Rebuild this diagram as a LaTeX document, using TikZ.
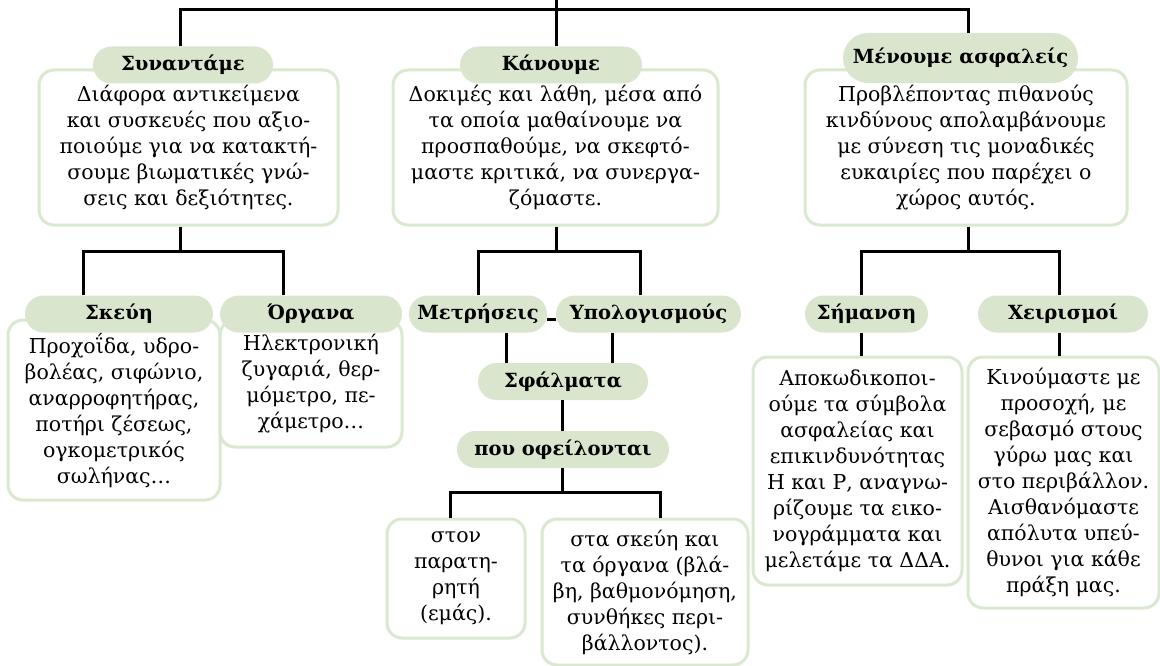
\documentclass[tikz,border=0pt]{standalone}
\usepackage{fontspec}
\setmainfont{DejaVu Serif}
\usetikzlibrary{positioning, shapes.misc}
\definecolor{pillgreen}{HTML}{D9E6CD}
\definecolor{cardgreen}{HTML}{DAE8CF}
\tikzset{
	pill/.style={rounded rectangle, fill=pillgreen, inner sep=0pt, minimum height=37pt, font=\bfseries\fontsize{19.5}{26}\selectfont},
	card/.style={draw=cardgreen, line width=3pt, fill=white, rounded corners=15pt, inner sep=0pt, align=center, font=\fontsize{20.5}{26}\selectfont},
	link/.style={line width=3pt}
}

\begin{document}
\begin{tikzpicture}[x=1pt, y=-1pt]
	\useasboundingbox (0,0) rectangle (1160,666);

	% first row of cards, pills on top of them
	\node[card, minimum width=299pt, minimum height=155pt] (synbox) at (188.5,147.5) {Διάφορα αντικείμενα\\και συσκευές που αξιο-\\ποιούμε για να κατακτή-\\σουμε βιωματικές γνώ-\\σεις και δεξιότητες.};
	\node[card, minimum width=325pt, minimum height=155pt] (kanbox) at (555.5,147.5) {Δοκιμές και λάθη, μέσα από\\τα οποία μαθαίνουμε να\\προσπαθούμε, να σκεφτό-\\μαστε κριτικά, να συνεργα-\\ζόμαστε.};
	\node[card, minimum width=322pt, minimum height=155pt] (menbox) at (966,147.5) {Προβλέποντας πιθανούς\\κινδύνους απολαμβάνουμε\\με σύνεση τις μοναδικές\\ευκαιρίες που παρέχει ο\\χώρος αυτός.};
	\node[pill, minimum width=180pt] (synpill) at (183,65) {Συναντάμε};
	\node[pill, minimum width=182pt] (kanpill) at (551,65) {Κάνουμε};
	\node[pill, minimum width=235pt, minimum height=50pt] (menpill) at (960.5,58) {Μένουμε ασφαλείς};

	% second row
	\node[card, minimum width=212pt, minimum height=180pt] (skebox) at (114,410) {Προχοΐδα, υδρο-\\βολέας, σιφώνιο,\\αναρροφητήρας,\\ποτήρι ζέσεως,\\ογκομετρικός\\σωλήνας…};
	\node[card, minimum width=182pt, minimum height=127pt] (orgbox) at (311,383.5) {Ηλεκτρονική\\ζυγαριά, θερ-\\μόμετρο, πε-\\χάμετρο…};
	\node[pill, minimum width=188pt] (skepill) at (119,314) {Σκεύη};
	\node[pill, minimum width=182pt] (orgpill) at (311,314) {Όργανα};
	\node[pill, minimum width=138pt] (metpill) at (478,314) {Μετρήσεις};
	\node[pill, minimum width=185pt] (ypopill) at (648.5,314) {Υπολογισμούς};
	\node[pill, minimum width=170pt] (sfapill) at (563,381.5) {Σφάλματα};
	\node[pill, minimum width=212pt] (poupill) at (563,449.5) {που οφείλονται};
	\node[card, minimum width=138pt, minimum height=119pt] (parbox) at (456,578.5) {στον\\παρατη-\\ρητή\\(εμάς).};
	\node[card, minimum width=206pt, minimum height=146pt] (orgbox2) at (645,592) {στα σκεύη και\\τα όργανα (βλά-\\βη, βαθμονόμηση,\\συνθήκες περι-\\βάλλοντος).};
	\node[pill, minimum width=123pt] (simpill) at (866.5,314) {Σήμανση};
	\node[pill, minimum width=170pt] (xeipill) at (1063,314) {Χειρισμοί};
	\node[card, minimum width=209pt, minimum height=228pt] (simbox) at (857.5,471) {Αποκωδικοποι-\\ούμε τα σύμβολα\\ασφαλείας και\\επικινδυνότητας\\Η και Ρ, αναγνω-\\ρίζουμε τα εικο-\\νογράμματα και\\μελετάμε τα ΔΔΑ.};
	\node[card, minimum width=191pt, minimum height=251pt] (xeibox) at (1063.5,482.5) {Κινούμαστε με\\προσοχή, με\\σεβασμό στους\\γύρω μας και\\στο περιβάλλον.\\Αισθανόμαστε\\απόλυτα υπεύ-\\θυνοι για κάθε\\πράξη μας.};

	% junction points of the tree
	\coordinate (root) at (556,0);
	\coordinate (tl) at (180,10);
	\coordinate (tr) at (968,10);
	\coordinate (sa) at (180,251);
	\coordinate (sl) at (83,251);
	\coordinate (sr) at (283,251);
	\coordinate (ka) at (556,251);
	\coordinate (kl) at (478,251);
	\coordinate (kr) at (640,251);
	\coordinate (ml) at (506,348);
	\coordinate (mr) at (612,348);
	\coordinate (pa) at (562,492);
	\coordinate (pl) at (450,492);
	\coordinate (pr) at (660,492);
	\coordinate (ma) at (968,251);
	\coordinate (mal) at (861,251);
	\coordinate (mar) at (1059,251);

	\draw[link] (root) -- (root |- kanpill.north);
	\draw[link] (tl |- synpill.north) -- (tl) -- (tr) -- (tr |- menpill.north);
	\draw[link] (sa |- synbox.south) -- (sa);
	\draw[link] (sl |- skepill.north) -- (sl) -- (sr) -- (sr |- orgpill.north);
	\draw[link] (ka |- kanbox.south) -- (ka);
	\draw[link] (kl |- metpill.north) -- (kl) -- (kr) -- (kr |- ypopill.north);
	\draw[link] ([yshift=-5pt]metpill.east) -- ([yshift=-5pt]ypopill.west);
	\draw[link] (ml |- metpill.south) -- (ml |- sfapill.north);
	\draw[link] (mr |- ypopill.south) -- (mr |- sfapill.north);
	\draw[link] (pa |- sfapill.south) -- (pa |- poupill.north);
	\draw[link] (pa |- poupill.south) -- (pa);
	\draw[link] (pl |- parbox.north) -- (pl) -- (pr) -- (pr |- orgbox2.north);
	\draw[link] (ma |- menbox.south) -- (ma);
	\draw[link] (mal |- simpill.north) -- (mal) -- (mar) -- (mar |- xeipill.north);
	\draw[link] (mal |- simpill.south) -- (mal |- simbox.north);
	\draw[link] (mar |- xeipill.south) -- (mar |- xeibox.north);
\end{tikzpicture}
\end{document}
